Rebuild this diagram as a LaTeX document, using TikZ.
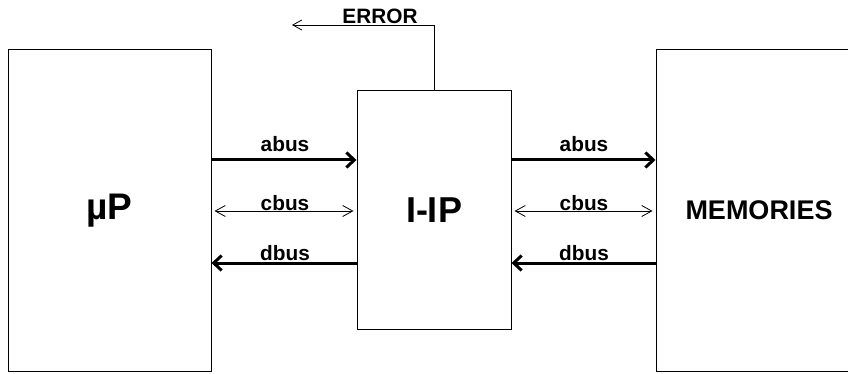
\documentclass[tikz,border=0pt]{standalone}
\usepackage{fontspec}
\setmainfont{Liberation Sans}
\usetikzlibrary{arrows.meta}
\begin{document}
\begin{tikzpicture}[x=1pt,y=-1pt,
  blk/.style={draw,line width=1pt,rectangle,inner sep=0pt,font=\bfseries},
  lbl/.style={font=\fontsize{20.8}{21}\selectfont\bfseries,anchor=base,inner sep=0pt},
  thickbus/.style={line width=3pt,-{Straight Barb[length=8pt,width=15pt,line width=3pt]}},
  thinbus/.style={line width=0.8pt,{Straight Barb[length=10pt,width=11pt]}-{Straight Barb[length=10pt,width=11pt]},shorten <=3pt,shorten >=3pt},
  errarrow/.style={line width=0.8pt,-{Straight Barb[length=9pt,width=10pt]}}]
\useasboundingbox (0,0) rectangle (848,374);
\node[blk,minimum width=203pt,minimum height=321pt,font=\fontsize{37}{37}\selectfont\bfseries] (mp) at (109.5,210.5) {µP};
\node[blk,minimum width=154pt,minimum height=238pt,font=\fontsize{36}{36}\selectfont\bfseries] (iip) at (434,210) {I-IP};
\node[blk,minimum width=206pt,minimum height=321pt,font=\fontsize{27}{27}\selectfont\bfseries] (mem) at (759,210.5) {MEMORIES};
\coordinate (ya) at (0,160);
\coordinate (yc) at (0,211);
\coordinate (yd) at (0,263);
\coordinate (errend) at (292,25);
% left buses
\draw[thickbus] (mp.east |- ya) -- (iip.west |- ya);
\draw[thinbus] (mp.east |- yc) -- (iip.west |- yc);
\draw[thickbus] (iip.west |- yd) -- (mp.east |- yd);
% right buses
\draw[thickbus] (iip.east |- ya) -- (mem.west |- ya);
\draw[thinbus] (iip.east |- yc) -- (mem.west |- yc);
\draw[thickbus] (mem.west |- yd) -- (iip.east |- yd);
% error
\draw[errarrow] (iip.north) |- (errend);
% labels
\node[lbl] (la1) at (285,152) {abus};
\node[lbl] (lc1) at (285,210) {cbus};
\node[lbl] (ld1) at (285,260) {dbus};
\node[lbl] (la2) at (584,152) {abus};
\node[lbl] (lc2) at (584,210) {cbus};
\node[lbl] (ld2) at (584,260) {dbus};
\node[lbl] (lerr) at (380,24) {ERROR};
\end{tikzpicture}
\end{document}
